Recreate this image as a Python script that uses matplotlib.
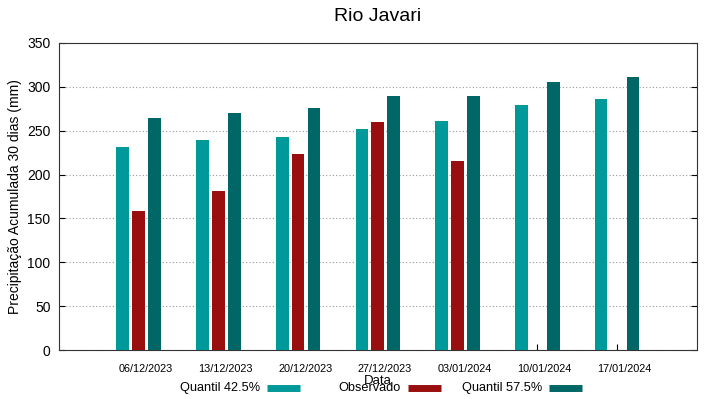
import numpy as np
import matplotlib
matplotlib.use('Agg')
import matplotlib.pyplot as plt
from matplotlib.lines import Line2D

plt.rcParams['font.family'] = ['Liberation Sans', 'DejaVu Sans']

# Dados
datas = ['06/12/2023', '13/12/2023', '20/12/2023', '27/12/2023',
         '03/01/2024', '10/01/2024', '17/01/2024']
quantil_425 = [231, 239, 243, 252, 261, 279, 286]
observado = [159, 181, 224, 260, 216, np.nan, np.nan]
quantil_575 = [265, 270, 276, 289, 290, 305, 311]

nomes = ['Quantil 42.5%', 'Observado', 'Quantil 57.5%']
cores = ['#009999', '#990f0f', '#006666']

W, H = 719, 399
fig = plt.figure(figsize=(W / 100, H / 100), dpi=100)
ax = fig.add_axes([0.082, 0.1228, 0.887, 0.7695])

x = np.arange(len(datas))
w = 0.16
for serie, cor, dx in zip([quantil_425, observado, quantil_575], cores, [-0.2, 0, 0.2]):
    ax.bar(x + dx, serie, width=w, color=cor, zorder=3)

ax.set_xlim(-1, len(datas))
ax.set_ylim(0, 350)
ax.set_yticks(range(0, 351, 50))

# ticks nos grupos, rotulos um pouco deslocados para a direita
ax.set_xticks(x)
ax.set_xticklabels([])
ax.set_xticks(x + 0.09, minor=True)
ax.set_xticklabels(datas, minor=True, fontsize=7.8)
ax.tick_params(axis='x', which='minor', length=0, pad=10)

ax.tick_params(axis='y', direction='in', length=4, left=True, right=True,
               labelsize=10, pad=6)
ax.tick_params(axis='x', which='major', direction='in', length=4, top=False)
ax.grid(axis='y', linestyle=(0, (1, 2)), color='#999999', linewidth=0.8, zorder=0)
for s in ax.spines.values():
    s.set_linewidth(0.8)
    s.set_color('#333333')

ax.set_title('Rio Javari', fontsize=14, pad=16)
ax.set_ylabel('Precipitação Acumulada 30 dias (mm)', fontsize=10, labelpad=4)
ax.set_xlabel('Data', fontsize=9.5, labelpad=1)

# legenda estilo gnuplot: colunas de largura fixa, texto alinhado a direita
y_leg = (H - 388) / H
for i, (nome, cor) in enumerate(zip(nomes, cores)):
    fim = 300 + 141 * i
    ini = fim - 33
    fig.add_artist(Line2D([ini / W, fim / W], [y_leg, y_leg], color=cor,
                          linewidth=5, solid_capstyle='butt',
                          transform=fig.transFigure))
    fig.text((ini - 7) / W, y_leg, nome, ha='right', va='center', fontsize=9.2)

fig.savefig('out.png', dpi=100)
